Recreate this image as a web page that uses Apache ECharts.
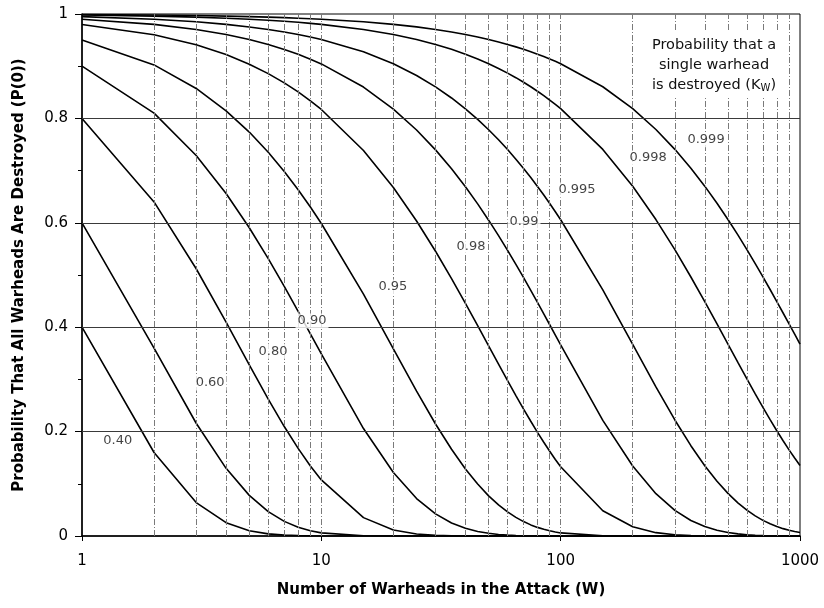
<!DOCTYPE html>
<html><head><meta charset="utf-8">
<script src="https://cdn.jsdelivr.net/npm/echarts@6/dist/echarts.min.js"></script>
<style>html,body{margin:0;padding:0;background:#fff}#c{width:824px;height:608px}</style>
</head><body><div id="c"></div>
<script>
const W = [1,2,3,4,5,6,7,8,9,10,
  15,20,25,30,35,40,45,50,55,60,65,70,75,80,85,90,95,100,
  150,200,250,300,350,400,450,500,550,600,650,700,750,800,850,900,950,1000];
const kNames = ['0.40','0.60','0.80','0.90','0.95','0.98','0.99','0.995','0.998','0.999'];
const p040 = [0.4,0.16,0.064,0.0256,0.0102,0.0041,0.0016,0.0007,0.0003,0.0001,
  0,0,0,0,0,0,0,0,0,0,0,0,0,0,0,0,0,0,
  0,0,0,0,0,0,0,0,0,0,0,0,0,0,0,0,0,0];
const p060 = [0.6,0.36,0.216,0.1296,0.0778,0.0467,0.028,0.0168,0.0101,0.006,
  0.0005,0,0,0,0,0,0,0,0,0,0,0,0,0,0,0,0,0,
  0,0,0,0,0,0,0,0,0,0,0,0,0,0,0,0,0,0];
const p080 = [0.8,0.64,0.512,0.4096,0.3277,0.2621,0.2097,0.1678,0.1342,0.1074,
  0.0352,0.0115,0.0038,0.0012,0.0004,0.0001,0,0,0,0,0,0,0,0,0,0,0,0,
  0,0,0,0,0,0,0,0,0,0,0,0,0,0,0,0,0,0];
const p090 = [0.9,0.81,0.729,0.6561,0.5905,0.5314,0.4783,0.4305,0.3874,0.3487,
  0.2059,0.1216,0.0718,0.0424,0.025,0.0148,0.0087,0.0052,0.003,0.0018,0.0011,0.0006,0.0004,0.0002,0.0001,0.0001,0,0,
  0,0,0,0,0,0,0,0,0,0,0,0,0,0,0,0,0,0];
const p095 = [0.95,0.9025,0.8574,0.8145,0.7738,0.7351,0.6983,0.6634,0.6302,0.5987,
  0.4633,0.3585,0.2774,0.2146,0.1661,0.1285,0.0995,0.0769,0.0595,0.0461,0.0357,0.0276,0.0213,0.0165,0.0128,0.0099,0.0077,0.0059,
  0.0005,0,0,0,0,0,0,0,0,0,0,0,0,0,0,0,0,0];
const p098 = [0.98,0.9604,0.9412,0.9224,0.9039,0.8858,0.8681,0.8508,0.8337,0.8171,
  0.7386,0.6676,0.6035,0.5455,0.4931,0.4457,0.4029,0.3642,0.3292,0.2976,0.269,0.2431,0.2198,0.1986,0.1796,0.1623,0.1467,0.1326,
  0.0483,0.0176,0.0064,0.0023,0.0008,0.0003,0.0001,0,0,0,0,0,0,0,0,0,0,0];
const p099 = [0.99,0.9801,0.9703,0.9606,0.951,0.9415,0.9321,0.9227,0.9135,0.9044,
  0.8601,0.8179,0.7778,0.7397,0.7034,0.669,0.6362,0.605,0.5754,0.5472,0.5203,0.4948,0.4706,0.4475,0.4256,0.4047,0.3849,0.366,
  0.2215,0.134,0.0811,0.049,0.0297,0.018,0.0109,0.0066,0.004,0.0024,0.0015,0.0009,0.0005,0.0003,0.0002,0.0001,0.0001,0];
const p0995 = [0.995,0.99,0.9851,0.9801,0.9752,0.9704,0.9655,0.9607,0.9559,0.9511,
  0.9276,0.9046,0.8822,0.8604,0.8391,0.8183,0.7981,0.7783,0.759,0.7403,0.7219,0.7041,0.6866,0.6697,0.6531,0.6369,0.6212,0.6058,
  0.4715,0.367,0.2856,0.2223,0.173,0.1347,0.1048,0.0816,0.0635,0.0494,0.0385,0.0299,0.0233,0.0181,0.0141,0.011,0.0086,0.0067];
const p0998 = [0.998,0.996,0.994,0.992,0.99,0.988,0.9861,0.9841,0.9821,0.9802,
  0.9704,0.9608,0.9512,0.9417,0.9323,0.923,0.9139,0.9047,0.8957,0.8868,0.878,0.8692,0.8606,0.852,0.8435,0.8351,0.8268,0.8186,
  0.7406,0.6701,0.6062,0.5485,0.4962,0.449,0.4062,0.3675,0.3325,0.3009,0.2722,0.2463,0.2228,0.2016,0.1824,0.165,0.1493,0.1351];
const p0999 = [0.999,0.998,0.997,0.996,0.995,0.994,0.993,0.992,0.991,0.99,
  0.9851,0.9802,0.9753,0.9704,0.9656,0.9608,0.956,0.9512,0.9465,0.9417,0.937,0.9324,0.9277,0.9231,0.9185,0.9139,0.9093,0.9048,
  0.8606,0.8186,0.7787,0.7407,0.7046,0.6702,0.6375,0.6064,0.5768,0.5486,0.5219,0.4964,0.4722,0.4491,0.4272,0.4064,0.3866,0.3677];
const curves = [p040,p060,p080,p090,p095,p098,p099,p0995,p0998,p0999];
// curve label anchor positions [W, P]
const labelX = [1.41,3.43,6.28,9.14,19.9,42.2,70.3,117,232,405];
const labelY = [0.182,0.293,0.354,0.412,0.477,0.554,0.603,0.663,0.724,0.759];
const vGrid = [2,3,4,5,6,7,8,9,10,20,30,40,50,60,70,80,90,100,200,300,400,500,600,700,800,900];
const hGrid = [0.2,0.4,0.6,0.8];
const xTicks = [1,10,100,1000];
const yTicks = [0,0.2,0.4,0.6,0.8,1];
const noteLines = ['Probability that a','single warhead','is destroyed (K{s|W})'];

const FONT = '"DejaVu Sans", Verdana, sans-serif';
const chart = echarts.init(document.getElementById('c'), null, {renderer:'canvas'});
const series = [];
series.push({
  type:'line', data:[], silent:true, z:1,
  markLine:{silent:true, symbol:'none', label:{show:false},
    data: vGrid.map(v=>({xAxis:v, lineStyle:{color:'#7a7a7a', width:1, type:[6,2,1,2]}}))
      .concat(hGrid.map(v=>({yAxis:v, lineStyle:{color:'#3a3a3a', width:1, type:'solid'}})))
  }
});
curves.forEach((c,i)=>{
  series.push({type:'line', name:kNames[i], data:W.map((w,j)=>[w,c[j]]), symbol:'none', z:3,
    lineStyle:{color:'#000', width:1.6}, silent:true});
});
series.push({
  type:'scatter', symbolSize:0, z:5, silent:true,
  data: kNames.map((n,i)=>({value:[labelX[i],labelY[i]], name:n})),
  label:{show:true, position:'inside', formatter:p=>p.name, color:'#111', fontFamily:FONT, fontSize:13,
    backgroundColor:'#fff', padding:[1,2]}
});
chart.setOption({
  animation:false,
  grid:{left:82, right:24, top:14, bottom:72, show:true, borderColor:'#000', borderWidth:1},
  xAxis:{type:'log', logBase:10, min:1, max:1000,
    name:'Number of Warheads in the Attack (W)', nameLocation:'middle', nameGap:47,
    nameTextStyle:{fontFamily:FONT, fontSize:15, fontWeight:'bold', color:'#000'},
    axisLine:{lineStyle:{color:'#000', width:1.5}},
    axisTick:{show:true, length:5, lineStyle:{color:'#000'}},
    axisLabel:{fontFamily:FONT, fontSize:15, color:'#000', margin:18,
      formatter:v=>xTicks.includes(Math.round(v))?String(Math.round(v)):''},
    splitLine:{show:false}},
  yAxis:{type:'value', min:0, max:1, interval:0.2,
    name:'Probability That All Warheads Are Destroyed (P(0))', nameLocation:'middle', nameGap:55,
    nameTextStyle:{fontFamily:FONT, fontSize:15, fontWeight:'bold', color:'#000'},
    axisLine:{show:true, lineStyle:{color:'#000', width:1.5}},
    axisTick:{show:true, length:7, lineStyle:{color:'#000'}},
    minorTick:{show:true, splitNumber:2, length:4, lineStyle:{color:'#000'}},
    axisLabel:{fontFamily:FONT, fontSize:15, color:'#000', margin:14,
      formatter:v=>{const t=yTicks.find(x=>Math.abs(x-v)<1e-6); return t===undefined?'':(t===0||t===1?String(t):t.toFixed(1));}},
    splitLine:{show:false}},
  series:series,
  graphic:[{type:'text', x:714, y:32, z:10,
    style:{text:noteLines.join('\n'), font:'14.5px '+FONT, fill:'#111', align:'center', verticalAlign:'top',
      lineHeight:20, backgroundColor:'#fff', padding:[3,6],
      rich:{s:{fontSize:10, fontFamily:FONT, fill:'#111', padding:[7,0,0,0]}}}}]
});
</script></body></html>
